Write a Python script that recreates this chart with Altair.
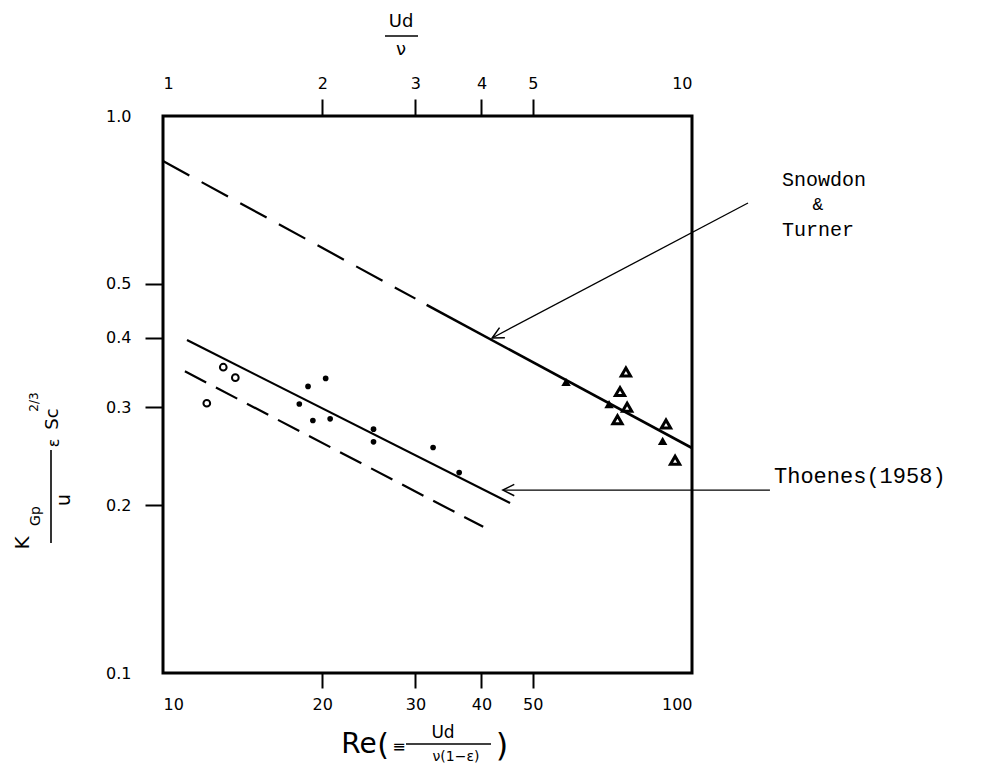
import altair as alt
import pandas as pd

# ---------------- axis ticks / labels ----------------
re_ticks = [10, 20, 30, 40, 50, 100]
top_ticks = [1, 2, 3, 4, 5, 10]
y_ticks = [0.1, 0.2, 0.3, 0.4, 0.5, 1.0]

# ---------------- data ----------------
circle_re = [12.1, 13.0, 13.7]
circle_val = [0.305, 0.354, 0.339]

dot_re = [18.1, 18.8, 19.2, 20.3, 20.7, 25.0, 25.0, 32.4, 36.3]
dot_val = [0.304, 0.327, 0.284, 0.338, 0.286, 0.274, 0.260, 0.254, 0.229]

tri_open_re = [75.0, 73.1, 75.4, 72.3, 89.3, 92.9]
tri_open_val = [0.347, 0.320, 0.300, 0.285, 0.280, 0.241]
tri_fill_re = [57.8, 69.7, 88.0]
tri_fill_val = [0.333, 0.304, 0.261]

# Snowdon & Turner line (dashed extrapolation + solid part)
snow_dash_re = [10.0, 30.0]
snow_dash_val = [0.83, 0.47]
snow_solid_re = [31.5, 100.0]
snow_solid_val = [0.458, 0.2535]

# Thoenes (1958) line and lower dashed line
thoenes_re = [11.1, 45.3]
thoenes_val = [0.396, 0.202]
thoenes_dash_re = [11.0, 40.3]
thoenes_dash_val = [0.348, 0.183]

# annotation arrows (start, tip) in data space
snow_arrow_re = [127.6, 41.9]
snow_arrow_val = [0.698, 0.3995]
thoe_arrow_re = [140.4, 43.9]
thoe_arrow_val = [0.213, 0.213]

# ---------------- helpers ----------------
X0, Y0 = 163, 116
W, H = 529, 557
HAND = "DejaVu Sans"
MONO = "Liberation Mono"

xs = alt.Scale(type="log", domain=[10, 100])
ys = alt.Scale(type="log", domain=[0.1, 1.0])
hide_x = {"condition": {"test": "datum.value <= 10 || datum.value >= 100", "value": 0}, "value": 1}
hide_y = {"condition": {"test": "datum.value <= 0.1 || datum.value >= 1", "value": 0}, "value": 1}
x_axis = alt.Axis(
    orient="bottom", values=re_ticks, format="d", title=None, grid=False, domain=False,
    tickSize=15, tickWidth=2, tickColor="black", tickOpacity=hide_x,
    labelPadding=8, labelFont=HAND, labelFontSize=16, labelColor="black")
y_axis = alt.Axis(
    orient="left", values=y_ticks, format=".1f", title=None, grid=False, domain=False,
    tickSize=18, tickWidth=2, tickColor="black", tickOpacity=hide_y,
    labelPadding=14, labelFont=HAND, labelFontSize=16, labelColor="black")


def df(xv, yv):
    return pd.DataFrame({"re": xv, "v": yv})


def enc(ch, **kw):
    return ch.encode(
        x=alt.X("re:Q", scale=xs, axis=x_axis),
        y=alt.Y("v:Q", scale=ys, axis=y_axis),
        **kw,
    )


def line(xv, yv, width, dash=None):
    m = dict(color="black", strokeWidth=width, clip=False)
    if dash:
        m["strokeDash"] = dash
    return enc(alt.Chart(df(xv, yv)).mark_line(**m))


def label(text, px, py, size, angle=0, font=HAND, align="center", baseline="middle"):
    return alt.Chart(pd.DataFrame({"t": [text]})).mark_text(
        fontSize=size, font=font, angle=angle, align=align, baseline=baseline, color="black"
    ).encode(x=alt.value(px - X0), y=alt.value(py - Y0), text="t:N")


def hbar(px1, px2, py, w=1.6):
    return alt.Chart(pd.DataFrame({"a": [0]})).mark_rule(color="black", strokeWidth=w).encode(
        x=alt.value(px1 - X0), x2=alt.value(px2 - X0), y=alt.value(py - Y0))


def vbar(px, py1, py2, w=1.6):
    return alt.Chart(pd.DataFrame({"a": [0]})).mark_rule(color="black", strokeWidth=w).encode(
        x=alt.value(px - X0), y=alt.value(py1 - Y0), y2=alt.value(py2 - Y0))


circles = enc(alt.Chart(df(circle_re, circle_val)).mark_point(
    shape="circle", filled=False, color="black", size=45, strokeWidth=2, opacity=1))
dots = enc(alt.Chart(df(dot_re, dot_val)).mark_point(
    shape="circle", filled=True, color="black", size=32, opacity=1))
tri_open = enc(alt.Chart(df(tri_open_re, tri_open_val)).mark_point(
    shape="triangle-up", filled=False, color="black", size=85, strokeWidth=3, opacity=1))
tri_fill = enc(alt.Chart(df(tri_fill_re, tri_fill_val)).mark_point(
    shape="triangle-up", filled=True, color="black", size=90, opacity=1))

chev = "M 1 -0.5 L 0 0 L 1 0.5"
snow_arrow = line(snow_arrow_re, snow_arrow_val, 1.3)
snow_head = enc(alt.Chart(df(snow_arrow_re[1:], snow_arrow_val[1:])).mark_point(
    shape=chev, filled=False, color="black", size=520, strokeWidth=1.5, angle=332, opacity=1))
thoe_arrow = line(thoe_arrow_re, thoe_arrow_val, 1.3)
thoe_head = enc(alt.Chart(df(thoe_arrow_re[1:], thoe_arrow_val[1:])).mark_point(
    shape=chev, filled=False, color="black", size=520, strokeWidth=1.5, angle=0, opacity=1))

main = alt.layer(
    line(snow_dash_re, snow_dash_val, 2.2, [30, 14]),
    line(snow_solid_re, snow_solid_val, 2.6),
    line(thoenes_re, thoenes_val, 2.2),
    line(thoenes_dash_re, thoenes_dash_val, 2.2, [24, 11]),
    circles, dots, tri_open, tri_fill,
    snow_arrow, snow_head, thoe_arrow, thoe_head,
    # annotations
    label("Snowdon", 782, 180, 20, font=MONO, align="left"),
    label("&", 818, 205, 18, font=MONO),
    label("Turner", 782, 230, 20, font=MONO, align="left"),
    label("Thoenes(1958)", 774, 476, 22, font=MONO, align="left"),
    # bottom title  Re (= Ud / v(1-e))
    label("Re", 359, 745, 28),
    label("(", 383, 746, 30),
    label("\u2261", 399, 747, 16),
    label("Ud", 443, 733, 17),
    hbar(406, 491, 744),
    label("\u03bd(1\u2212\u03b5)", 456, 757, 14),
    label(")", 502, 746, 32),
    # top title  Ud / v
    label("Ud", 401, 22, 18),
    hbar(385, 418, 36),
    label("\u03bd", 401, 50, 18),
    # y title  K_Gp / u  eps Sc^(2/3)  (rotated)
    label("K", 23, 543, 20, angle=270),
    label("Gp", 36, 516, 14, angle=270),
    vbar(51, 450, 543),
    label("u", 64, 500, 19, angle=270),
    label("\u03b5", 54, 443, 16, angle=270),
    label("Sc", 53, 419, 18, angle=270),
    label("2/3", 34, 402, 12, angle=270),
)

top = alt.Chart(pd.DataFrame({"u": top_ticks})).mark_point(opacity=0).encode(
    x=alt.X("u:Q", scale=alt.Scale(type="log", domain=[1, 10]), axis=alt.Axis(
        orient="top", values=top_ticks, format="d", title=None, grid=False, domain=False,
        tickSize=17, tickWidth=2, tickColor="black",
        tickOpacity={"condition": {"test": "datum.value <= 1 || datum.value >= 10", "value": 0}, "value": 1},
        labelPadding=8, labelFont=HAND, labelFontSize=16, labelColor="black")),
)

chart = alt.layer(main, top).resolve_scale(x="independent").properties(
    width=W, height=H,
    padding={"left": X0 - 8, "top": Y0 - 8, "right": 290, "bottom": 94},
    autosize=alt.AutoSizeParams(type="none"),
    background="white",
).configure_view(stroke="black", strokeWidth=3)

chart.save("out.html", embed_options={"renderer": "svg", "actions": False})
